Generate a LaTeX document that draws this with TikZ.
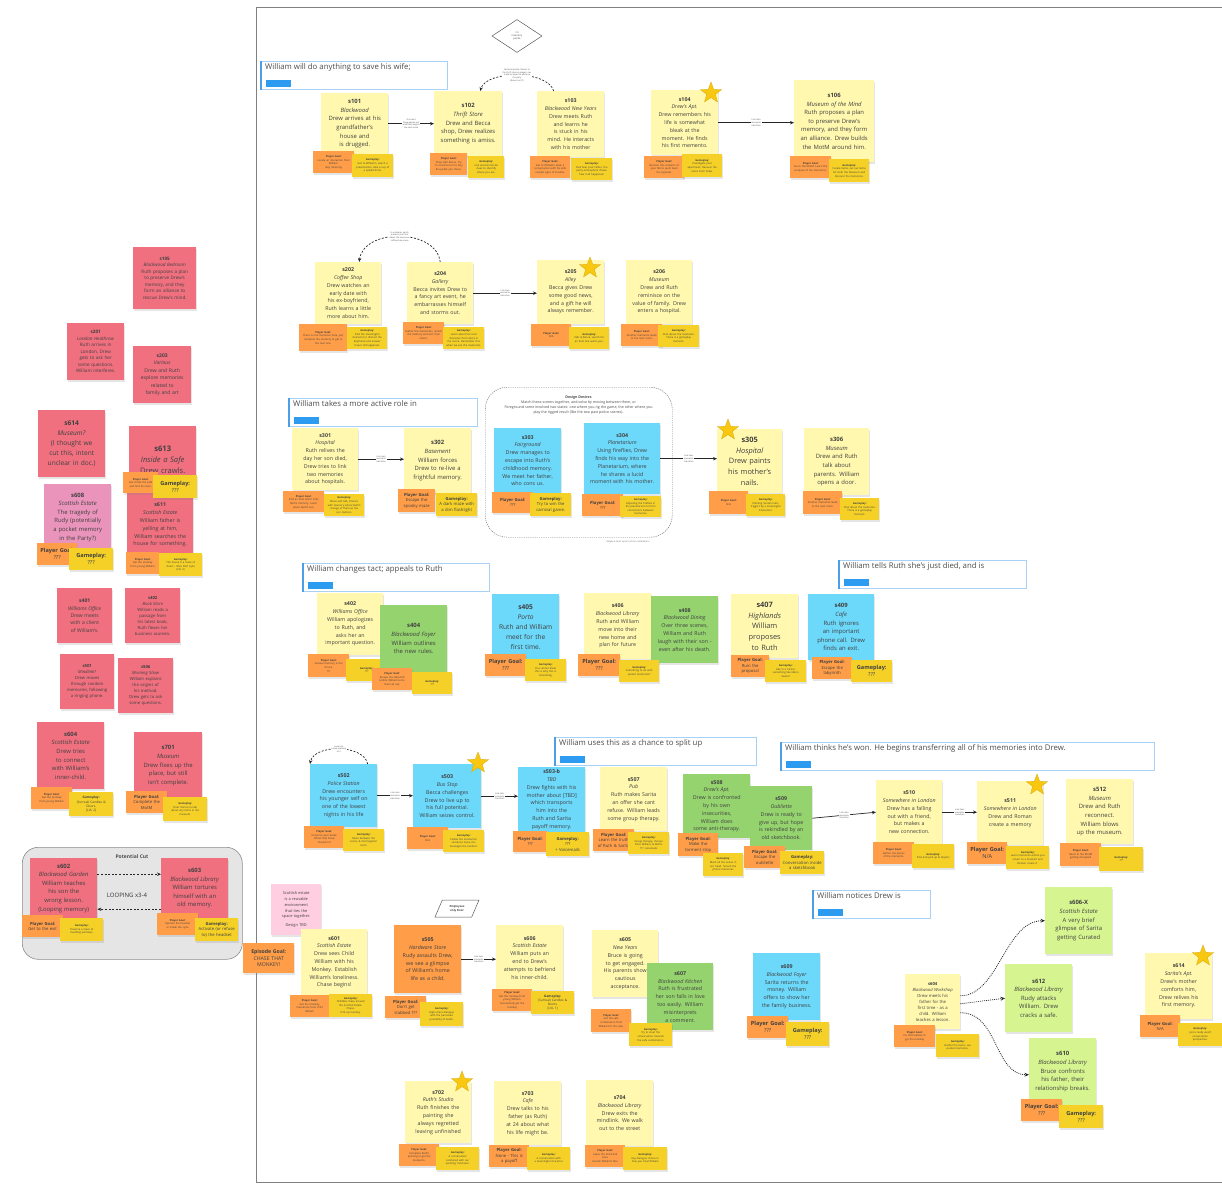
\documentclass[tikz,border=0pt]{standalone}
\usepackage{fontspec}
\setmainfont{Open Sans}
\usetikzlibrary{shapes.geometric,shadows,arrows.meta,calc}
\hyphenpenalty=10000
\exhyphenpenalty=10000
\definecolor{cY}{HTML}{FFF8AE}
\definecolor{cO}{HTML}{FF9D48}
\definecolor{cGo}{HTML}{F5D128}
\definecolor{cR}{HTML}{F0707F}
\definecolor{cB}{HTML}{6CD8FA}
\definecolor{cG}{HTML}{94D36E}
\definecolor{cLG}{HTML}{D6F590}
\definecolor{cPk}{HTML}{FFCEE0}
\definecolor{cMP}{HTML}{EA94BB}
\definecolor{cStar}{HTML}{FAC710}
\definecolor{cTB}{HTML}{A8D1F5}
\definecolor{cTB2}{HTML}{4A9FE8}
\definecolor{cTBar}{HTML}{2D9BF0}
\definecolor{cTxt}{HTML}{404040}
\tikzset{
 note/.style={rectangle,anchor=north west,align=center,inner xsep=0pt,inner ysep=1pt,text=cTxt,
   drop shadow={shadow xshift=0.4pt,shadow yshift=-2.2pt,opacity=0.2}},
 cy/.style={fill=cY}, co/.style={fill=cO}, cgo/.style={fill=cGo}, cr/.style={fill=cR},
 cb/.style={fill=cB}, cg/.style={fill=cG}, clg/.style={fill=cLG}, cpk/.style={fill=cPk}, cmp/.style={fill=cMP},
 fXS/.style={font=\fontsize{4.6}{6.5}\selectfont},
 fS/.style={font=\fontsize{5.3}{7.8}\selectfont},
 fM/.style={font=\fontsize{5.9}{8.6}\selectfont},
 fL/.style={font=\fontsize{6.6}{9.8}\selectfont},
 fXL/.style={font=\fontsize{7.4}{10.8}\selectfont},
 tT/.style={font=\fontsize{2.6}{3.6}\selectfont},
 tM/.style={font=\fontsize{4.2}{5.4}\selectfont},
 tL/.style={font=\fontsize{5.6}{7.2}\selectfont},
 kstar/.style={star,star points=5,star point ratio=2.4,fill=cStar,draw=cStar!85!black,line width=0.3pt,minimum size=22pt,inner sep=0pt},
 arr/.style={-{Stealth[length=4pt,width=3.4pt]},line width=0.7pt,black!85},
 lab/.style={fill=white,inner sep=0.6pt,align=center,font=\fontsize{2.1}{2.7}\selectfont,text=black!70},
 darr/.style={-{Stealth[length=4pt,width=3.4pt]},line width=0.7pt,black!85,dash pattern=on 2pt off 1.6pt},
 dotarr/.style={-{Stealth[length=4.5pt,width=3.8pt]},line width=0.8pt,black!85,dash pattern=on 0.9pt off 1.1pt},
 tbox/.style={draw=cTB,line width=0.8pt,anchor=north west,minimum height=28pt,inner sep=0pt,fill=white},
 ttext/.style={anchor=north west,inner sep=1pt,font=\fontsize{7.8}{9}\selectfont,text=black!70},
 tbl/.style={anchor=north west,fill=cTBar,minimum width=25pt,minimum height=6.5pt,inner sep=0pt}
}
\newcommand\stk[7]{\edef\tw{\the\dimexpr#4pt-12pt\relax}\node[note,#6,minimum width=#4pt,minimum height=#5pt,text width=\tw] (#1) at (#2,#3) {#7};}
\newcommand\sn[7]{\edef\tw{\the\dimexpr#4pt-3pt\relax}\node[note,#6,minimum width=#4pt,minimum height=#5pt,text width=\tw] (#1) at (#2,#3) {#7};}
\newcommand\ttl[5]{%
 \node[tbox,minimum width=#4pt] (#1) at (#2,#3) {};
 \draw[line width=1.6pt,cTB2] (#1.north west) -- (#1.south west);
 \node[ttext] (#1x) at ([xshift=3pt,yshift=-1pt]#1.north west) {#5};
 \node[tbl] (#1b) at ([xshift=5pt,yshift=-19pt]#1.north west) {};}
\begin{document}
\begin{tikzpicture}[x=1pt,y=-1pt]
\fill[white] (0,0) rectangle (1222,1184);
\useasboundingbox (0,0) rectangle (1222,1184);
\draw[line width=0.9pt,black!50] (1222,7) -- (256,7) -- (256,1182) -- (1222,1182);

\node[diamond,draw=black!65,line width=0.5pt,minimum width=50pt,minimum height=33pt,inner sep=0pt,align=center,text=black!75,font=\fontsize{2.4}{3.2}\selectfont] (dm) at (517,36) {1st\\inventory\\puzzle};

\ttl{t1}{261}{61}{186}{William will do anything to save his wife;}
\ttl{t2}{289}{398}{188}{William takes a more active role in}
\ttl{t3}{303}{563}{186}{William changes tact; appeals to Ruth}
\ttl{t4}{839}{560}{187}{William tells Ruth she's just died, and is}
\ttl{t5}{555}{737}{201}{William uses this as a chance to split up}
\ttl{t6}{781}{742}{373}{William thinks he's won. He begins transferring all of his memories into Drew.}
\ttl{t7}{813}{890}{117}{William notices Drew is}

% ---------- Row 1
\stk{s101}{321}{93}{67}{61}{cy,fM}{\textbf{s101}\\\textit{Blackwood}\\Drew arrives at his grandfather's house and is drugged.}
\sn{p101}{313}{151}{41}{22}{co,tT}{\textbf{Player Goal:}\\Locate an interaction from\\William.\\(key memory)}
\sn{g101}{352}{154}{41}{23}{cgo,tT}{\textbf{Gameplay:}\\Get to William's, watch a\\presentation, take a cup of\\a spiked drink.}
\stk{s102}{434}{91}{68}{65}{cy,fM}{\textbf{s102}\\\textit{Thrift Store}\\Drew and Becca shop, Drew realizes something is amiss.}
\sn{p102}{430}{153}{37}{22}{co,tT}{\textbf{Player Goal:}\\Shop with Becca. Try\\to convince her to buy\\the jacket you chose.}
\sn{g102}{468}{156}{36}{22}{cgo,tT}{\textbf{Gameplay:}\\Use environmental\\clues to identify\\where you are.}
\draw[arr] (s101.east) -- node[lab]{One alert\\Drew passes out\\as William begins\\the next scene} (s101.east -| s102.west);
\stk{s103}{537}{91}{67}{66}{cy,fS}{\textbf{s103}\\\textit{Blackwood New Years}\\Drew meets Ruth and learns he is stuck in his mind. He interacts with his mother}
\sn{p103}{530}{156}{40}{22}{co,tT}{\textbf{Player Goal:}\\Get to William's desk, a\\conversation with his wife\\reveals signs of trouble.}
\sn{g103}{571}{158}{41}{22}{cgo,tT}{\textbf{Gameplay:}\\Overhear your father, the\\party atmosphere shows\\how it all happened.}
\draw[darr] ([xshift=-17pt]s103.north) .. controls +(-6,-21) and +(6,-21) .. ([xshift=12pt]s102.north) node[pos=0.5,lab]{Optional puzzle: Return to\\the thrift store so players can\\trade an object to advance\\the party\\(Return to it?)};
\stk{s104}{651}{90}{67}{65}{cy,fS}{\textbf{s104}\\\textit{Drew's Apt.}\\Drew remembers his life is somewhat bleak at the moment. He finds his first memento.}
\sn{p104}{644}{156}{40}{22}{co,tT}{\textbf{Player Goal:}\\Recover the contents of\\your life to push back\\the vignette.}
\sn{g104}{682}{154}{40}{23}{cgo,tT}{\textbf{Gameplay:}\\Investigate your\\apartment. Recover the\\items from Drew.}
\node[kstar] (k104) at (711,93) {};
\stk{s106}{794}{80}{80}{82}{cy,fM}{\textbf{s106}\\\textit{Museum of the Mind}\\Ruth proposes a plan to preserve Drew's memory, and they form an alliance. Drew builds the MotM around him.}
\sn{p106}{790}{156}{41}{22}{co,tT}{\textbf{Player Goal:}\\Go to the MotM. Learn the\\purpose of the memories.}
\sn{g106}{829}{159}{40}{23}{cgo,tT}{\textbf{Gameplay:}\\Curate items, set out items\\for both the Museum and\\discover the memories.}
\draw[arr] (s104.east) -- node[lab]{Link item\\memento\\transition} (s104.east -| s106.west);

% ---------- Row 2
\stk{s202}{315}{262}{66}{62}{cy,fS}{\textbf{s202}\\\textit{Coffee Shop}\\Drew watches an early date with his ex-boyfriend, Ruth learns a little more about him.}
\sn{p202}{299}{324}{48}{27}{co,tT}{\textbf{Player Goal:}\\There is one memento here, just\\complete the memory to get to\\the next one.}
\sn{g202}{347}{327}{40}{22}{cgo,tT}{\textbf{Gameplay:}\\Find the meaningful\\character to distract the\\boyfriend and answer\\how it all happened.}
\stk{s204}{407}{262}{66}{62}{cy,fS}{\textbf{s204}\\\textit{Gallery}\\Becca invites Drew to a fancy art event, he embarrasses himself and storms out.}
\sn{p204}{403}{322}{41}{22}{co,tT}{\textbf{Player Goal:}\\Gather the mementos, unlock\\the memory and exit, then\\return.}
\sn{g204}{443}{327}{41}{22}{cgo,tT}{\textbf{Gameplay:}\\Learn about the rival\\character from items in\\the scene. Remember this\\when we see the memories.}
\draw[darr] (s204.north) .. controls +(-4,-34) and +(4,-34) .. ([xshift=11pt]s202.north) node[pos=0.5,lab]{In a sidebar, which\\protects you from\\about the memories\\coffee shop scene};
\stk{s205}{537}{260}{67}{64}{cy,fS}{\textbf{s205}\\\textit{Alley}\\Becca gives Drew some good news, and a gift he will always remember.}
\sn{p205}{531}{324}{40}{22}{co,tT}{\textbf{Player Goal:}\\N/A}
\sn{g205}{569}{327}{40}{22}{cgo,tT}{\textbf{Gameplay:}\\Talk to Becca, search for\\an item she wants you.}
\node[kstar] (k205) at (590,268) {};
\draw[arr] (s204.east) -- node[lab]{Link item\\memento\\transition} (s204.east -| s205.west);
\stk{s206}{626}{260}{66}{64}{cy,fS}{\textbf{s206}\\\textit{Museum}\\Drew and Ruth reminisce on the value of family. Drew enters a hospital.}
\sn{p206}{621}{324}{41}{22}{co,tT}{\textbf{Player Goal:}\\Another memento leads\\to the next room.}
\sn{g206}{658}{325}{41}{22}{cgo,tT}{\textbf{Gameplay:}\\Chat about the memento.\\There is a gameplay\\moment.}

% ---------- Row 3
\node[draw=black!55,rounded corners=22pt,minimum width=187pt,minimum height=150pt,anchor=north west,inner sep=0pt,line width=0.45pt,dash pattern=on 1.2pt off 1pt] (dd) at (485,387) {};
\node[align=center,font=\fontsize{3.6}{5.2}\selectfont,text=black!70,anchor=north] (ddt) at (578.5,392) {\textbf{Design Desires}\\Match these scenes together, and solve by moving between them, or\\Foreground some involved two states: one where you rig the game, the other where you\\play the rigged result (like the two past police scenes).};
\node[font=\fontsize{2.2}{3}\selectfont,text=black!60] (ddn) at (628,542) {Maybe a short version of the combination};
\stk{s301}{292}{428}{66}{62}{cy,fS}{\textbf{s301}\\\textit{Hospital}\\Ruth relives the day her son died, Drew tries to link two memories about hospitals.}
\sn{p301}{283}{491}{41}{21}{co,tT}{\textbf{Player Goal:}\\Find an item which links\\Ruth's memory. Learn\\about Ruth's son.}
\sn{g301}{324}{494}{40}{22}{cgo,tT}{\textbf{Gameplay:}\\Move and talk, interact\\with memory where Ruth's\\change of them as the\\son matters.}
\stk{s302}{404}{428}{67}{65}{cy,fM}{\textbf{s302}\\\textit{Basement}\\William forces Drew to re-live a frightful memory.}
\sn{p302}{398}{489}{37}{23}{co,tM}{\textbf{Player Goal:}\\Escape the spooky maze}
\sn{g302}{436}{493}{41}{23}{cgo,tM}{\textbf{Gameplay:}\\A dark maze with a dim flashlight}
\draw[arr] (s301.east) -- node[lab]{Link item\\memento\\transition} (s301.east -| s302.west);
\stk{s303}{494}{428}{67}{65}{cb,fS}{\textbf{s303}\\\textit{Fairground}\\Drew manages to escape into Ruth's childhood memory. We meet her father, who cons us.}
\sn{p303}{492}{492}{41}{21}{co,tM}{\textbf{Player Goal:}\\???}
\sn{g303}{530}{493}{41}{23}{cgo,tM}{\textbf{Gameplay:}\\Try to win the carnival game.}
\stk{s304}{584}{423}{76}{71}{cb,fS}{\textbf{s304}\\\textit{Planetarium}\\Using fireflies, Drew finds his way into the Planetarium, where he shares a lucid moment with his mother.}
\sn{p304}{582}{494}{41}{22}{co,tM}{\textbf{Player Goal:}\\???}
\sn{g304}{620}{496}{41}{21}{cgo,tT}{\textbf{Gameplay:}\\Adjusting the fireflies in\\the planetarium to form\\connections between\\memories.}
\stk{s305}{717}{429}{65}{64}{cy,fXL}{\textbf{s305}\\\textit{Hospital}\\Drew paints his mother's nails.}
\sn{p305}{709}{491}{39}{23}{co,tT}{\textbf{Player Goal:}\\N/A}
\sn{g305}{746}{494}{39}{22}{cgo,tT}{\textbf{Gameplay:}\\Painting Sarita's nails,\\triggers by a meaningful\\interaction.}
\node[kstar] (k305) at (728,430) {};
\draw[arr] (s304.east) -- node[lab]{Link item\\memento\\transition} (s304.east -| s305.west);
\stk{s306}{804}{428}{65}{67}{cy,fM}{\textbf{s306}\\\textit{Museum}\\Drew and Ruth talk about parents. William opens a door.}
\sn{p306}{803}{491}{39}{23}{co,tT}{\textbf{Player Goal:}\\Another memento leads\\to the next room.}
\sn{g306}{840}{498}{39}{22}{cgo,tT}{\textbf{Gameplay:}\\Chat about the memento.\\There is a gameplay\\moment.}

% ---------- Row 4
\stk{s402}{317}{593}{66}{62}{cy,fS}{\textbf{s402}\\\textit{Williams Office}\\William apologizes to Ruth, and asks her an important question.}
\sn{p402}{308}{654}{41}{23}{co,tT}{\textbf{Player Goal:}\\Answer memory is the\\choice.\\???}
\sn{g402}{346}{659}{41}{22}{cgo,tT}{\textbf{Gameplay:}\\???}
\stk{s404}{380}{605}{67}{67}{cg,fM}{\textbf{s404}\\\textit{Blackwood Foyer}\\William outlines the new rules.}
\sn{p404}{372}{668}{40}{22}{co,tT}{\textbf{Player Goal:}\\Escape the labyrinth\\before William turns\\them all out.}
\sn{g404}{412}{672}{40}{22}{cgo,tT}{\textbf{Gameplay:}\\???}
\stk{s405}{492}{594}{67}{66}{cb,fL}{\textbf{s405}\\\textit{Porto}\\Ruth and William meet for the first time.}
\sn{p405}{485}{654}{41}{22}{co,tL}{\textbf{Player Goal:}\\???}
\sn{g405}{525}{659}{41}{22}{cgo,tT}{\textbf{Gameplay:}\\You cannot know\\this is why this is\\interesting.}
\stk{s406}{584}{593}{67}{66}{cy,fS}{\textbf{s406}\\\textit{Blackwood Library}\\Ruth and William move into their new home and plan for future}
\stk{s408}{651}{596}{67}{67}{cg,fS}{\textbf{s408}\\\textit{Blackwood Dining}\\Over three scenes, William and Ruth laugh with their son - even after his death.}
\sn{p406}{578}{654}{42}{22}{co,tL}{\textbf{Player Goal:}\\???}
\sn{g406}{619}{660}{40}{22}{cgo,tT}{\textbf{Gameplay:}\\Something to do with\\pocket memories?}
\stk{s407}{731}{594}{67}{64}{cy,fXL}{\textbf{s407}\\\textit{Highlands}\\William proposes to Ruth}
\sn{p407}{731}{655}{38}{22}{co,tM}{\textbf{Player Goal:}\\Ruin the\\proposal}
\sn{g407}{765}{660}{41}{22}{cgo,tT}{\textbf{Gameplay:}\\Like in a sitcom,\\something like Mario\\Game?}
\stk{s409}{808}{594}{66}{66}{cb,fM}{\textbf{s409}\\\textit{Cafe}\\Ruth ignores an important phone call. Drew finds an exit.}
\sn{p409}{812}{657}{40}{22}{co,tM}{\textbf{Player Goal:}\\Escape the\\labyrinth}
\sn{g409}{851}{660}{41}{22}{cgo,tL}{\textbf{Gameplay:}\\???}

% ---------- Row 5
\stk{s502}{310}{764}{67}{63}{cb,fS}{\textbf{s502}\\\textit{Police Station}\\Drew encounters his younger self on one of the lowest nights in his life}
\sn{p502}{304}{826}{40}{22}{co,tT}{\textbf{Player Goal:}\\Convince your break\\officer that Drew\\should not}
\sn{g502}{343}{829}{41}{22}{cgo,tT}{\textbf{Gameplay:}\\Move between the\\scene, \& interrogation\\room.}
\draw[darr] ([xshift=24pt]s502.north) .. controls +(-4,-20) and +(4,-20) .. (s502.north west) node[pos=0.5,lab]{Loop into\\a loop memory\\of it};
\stk{s503}{413}{764}{68}{64}{cb,fS}{\textbf{s503}\\\textit{Bus Stop}\\Becca challenges Drew to live up to his full potential. William seizes control.}
\sn{p503}{407}{827}{41}{22}{co,tT}{\textbf{Player Goal:}\\N/A}
\sn{g503}{443}{830}{41}{22}{cgo,tT}{\textbf{Gameplay:}\\Follow the mementos\\someone leave, the\\messages the hardest.}
\node[kstar] (k503) at (478,763) {};
\draw[arr] (s502.east) -- node[lab]{Link item\\memento\\transition} (s502.east -| s503.west);
\stk{s503b}{518}{767}{67}{65}{cb,fS}{\textbf{s503-b}\\\textit{TBD}\\Drew fights with his mother about [TBD] which transports him into the Ruth and Sarita payoff memory.}
\sn{p503b}{513}{831}{34}{21}{co,tM}{\textbf{Player Goal:}\\???}
\sn{g503b}{546}{832}{43}{24}{cgo,tM}{\textbf{Gameplay:}\\???\\+ Voicemails}
\draw[arr] (s503.east) -- node[lab]{Link item\\memento\\transition} (s503.east -| s503b.west);
\stk{s507}{600}{767}{67}{64}{cy,fS}{\textbf{s507}\\\textit{Pub}\\Ruth makes Sarita an offer she cant refuse. William leads some group therapy.}
\sn{p507}{593}{829}{41}{22}{co,tM}{\textbf{Player Goal:}\\Learn the truth\\of Ruth \& Sarita}
\sn{g507}{628}{832}{41}{22}{cgo,tT}{\textbf{Gameplay:}\\Group therapy, choices\\from William, \& Ruth's\\??? voicemails}
\stk{s508}{683}{774}{67}{64}{cg,fS}{\textbf{s508}\\\textit{Drew's Apt.}\\Drew is confronted by his own insecurities, William does some anti-therapy.}
\stk{s509}{750}{786}{62}{64}{cg,fS}{\textbf{s509}\\\textit{Oubliette}\\Drew is ready to give up, but hope is rekindled by an old sketchbook.}
\sn{p508}{678}{833}{40}{23}{co,tM}{\textbf{Player Goal:}\\Make the\\torment stop}
\sn{g508}{703}{853}{40}{23}{cgo,tT}{\textbf{Gameplay:}\\Mash all the voices in\\our head. Smash the\\phone memories}
\sn{p509}{744}{846}{41}{22}{co,tM}{\textbf{Player Goal:}\\Escape the\\oubliette}
\sn{g509}{780}{851}{44}{23}{cgo,tM}{\textbf{Gameplay:}\\Conversation inside\\a sketchbook}
\stk{s510}{876}{780}{66}{64}{cy,fS}{\textbf{s510}\\\textit{Somewhere in London}\\Drew has a falling out with a friend, but makes a new connection.}
\sn{p510}{873}{842}{41}{22}{co,tT}{\textbf{Player Goal:}\\Gather the pieces\\of the memento.}
\sn{g510}{912}{844}{42}{24}{cgo,tT}{\textbf{Gameplay:}\\Find and pick up \& objects}
\draw[arr] (s509.east) -- node[lab]{Link item\\memento\\transition} (s510.west);
\stk{s511}{977}{781}{66}{64}{cy,fS}{\textbf{s511}\\\textit{Somewhere in London}\\Drew and Roman create a memory}
\sn{p511}{967}{842}{40}{22}{co,tL}{\textbf{Player Goal:}\\N/A}
\sn{g511}{1006}{846}{43}{23}{cgo,tT}{\textbf{Gameplay:}\\Learn memories where you\\return to a moment and\\Roman create it.}
\node[kstar] (k511) at (1037,785) {};
\draw[arr] (s510.east) -- node[lab]{Link item\\memento\\transition} (s510.east -| s511.west);
\stk{s512}{1066}{779}{67}{65}{cy,fM}{\textbf{s512}\\\textit{Museum}\\Drew and Ruth reconnect. William blows up the museum.}
\sn{p512}{1060}{843}{41}{23}{co,tT}{\textbf{Player Goal:}\\React to the MotM\\getting disrupted}
\sn{g512}{1099}{847}{44}{24}{cgo,tT}{\textbf{Gameplay:}\\???}

% ---------- Row 6
\stk{pk}{271}{884}{50}{51}{cpk,font=\fontsize{3.9}{5.8}\selectfont}{Scottish estate is a reusable environment that ties the space together.\\[3pt]Design TBD}
\sn{eg}{243}{943}{51}{30}{co,font=\fontsize{5.2}{6.6}\selectfont}{\textbf{Episode Goal:}\\CHASE THAT\\MONKEY!}
\stk{s601}{301}{929}{66}{66}{cy,fS}{\textbf{s601}\\\textit{Scottish Estate}\\Drew sees Child William with his Monkey. Establish William's loneliness. Chase begins!}
\sn{p601}{290}{995}{39}{22}{co,tT}{\textbf{Player Goal:}\\Get the monkey,\\mementos from child\\William}
\sn{g601}{329}{994}{43}{23}{cgo,tT}{\textbf{Gameplay:}\\Childlike chase around\\the Scottish Estate.\\Chase.\\Pick up monkey.}
\node[trapezium,trapezium left angle=62,trapezium right angle=118,trapezium stretches=true,draw=black!65,line width=0.5pt,minimum width=44pt,minimum height=17pt,inner sep=0.5pt,align=center,font=\fontsize{2.8}{3.6}\selectfont\bfseries,text=black!75] (door) at (457,908.5) {Employees\\only Door};
\stk{s505}{394}{925}{67}{68}{co,fS}{\textbf{s505}\\\textit{Hardware Store}\\Rudy assaults Drew, we see a glimpse of William's home life as a child.}
\sn{p505}{385}{996}{41}{22}{co,tM}{\textbf{Player Goal:}\\Don't get\\stabbed ???}
\sn{g505}{420}{1002}{43}{24}{cgo,tT}{\textbf{Gameplay:}\\High-stress dialogue\\with the perceived\\possibility of death.}
\stk{s606}{496}{925}{67}{65}{cy,fS}{\textbf{s606}\\\textit{Scottish Estate}\\William puts an end to Drew's attempts to befriend his inner-child.}
\sn{p606}{492}{989}{40}{22}{co,tT}{\textbf{Player Goal:}\\Get the monkey from\\young William.\\Successfully get the\\monkey}
\sn{g606}{531}{991}{43}{23}{cgo,font=\fontsize{3.2}{4.2}\selectfont}{\textbf{Gameplay:}\\(Surreal) Candles \&\\Doors.\\{}[LVL 1]}
\draw[arr] (s505.east) -- node[lab]{Link item\\memento\\transition} (s505.east -| s606.west);
\stk{s605}{592}{930}{66}{67}{cy,fS}{\textbf{s605}\\\textit{New Years}\\Bruce is going to get engaged. His parents show\\cautious\\acceptance.}
\sn{p605}{591}{1009}{40}{23}{co,tT}{\textbf{Player Goal:}\\Get the safe\\combination from\\William for the safe.}
\stk{s607}{647}{963}{66}{67}{cg,fS}{\textbf{s607}\\\textit{Blackwood Kitchen}\\Ruth is frustrated her son falls in love too easily. William misinterprets a comment.}
\sn{g605}{629}{1023}{43}{23}{cgo,tT}{\textbf{Gameplay:}\\Try to steer the\\conversation towards\\the safe combination.}

% ---------- Row 7
\stk{s702}{405}{1081}{66}{62}{cy,fS}{\textbf{s702}\\\textit{Ruth's Studio}\\Ruth finishes the painting she always regretted leaving unfinished}
\sn{p702}{399}{1144}{40}{22}{co,tT}{\textbf{Player Goal:}\\Complete Ruth's\\painting to get the\\memento.}
\sn{g702}{436}{1147}{43}{23}{cgo,tT}{\textbf{Gameplay:}\\A conversation\\combined with our\\`painting' mechanic.}
\node[kstar] (k702) at (462,1082) {};
\stk{s703}{494}{1081}{67}{64}{cy,fS}{\textbf{s703}\\\textit{Cafe}\\Drew talks to his father (as Ruth) at 24 about what his life might be.}
\sn{p703}{489}{1145}{40}{22}{co,tM}{\textbf{Player Goal:}\\None - This is\\a payoff}
\sn{g703}{527}{1147}{43}{23}{cgo,tT}{\textbf{Gameplay:}\\A conversation with\\a meaningful character}
\stk{s704}{586}{1080}{67}{66}{cy,fS}{\textbf{s704}\\\textit{Blackwood Library}\\Drew exits the mindlink. We walk out to the street}
\sn{p704}{585}{1145}{40}{22}{co,tT}{\textbf{Player Goal:}\\Leave the mind-link\\area.\\Decide William's fate}
\sn{g704}{623}{1147}{44}{23}{cgo,tT}{\textbf{Gameplay:}\\Key dialogue choice in\\how you treat William}

% ---------- Right block
\stk{s609}{753}{953}{67}{67}{cb,fS}{\textbf{s609}\\\textit{Blackwood Foyer}\\Sarita returns the money. William offers to show her the family business.}
\sn{p609}{747}{1016}{41}{22}{co,tL}{\textbf{Player Goal:}\\???}
\sn{g609}{786}{1022}{43}{24}{cgo,tL}{\textbf{Gameplay:}\\???}
\stk{s604}{905}{974}{55}{55}{cy,font=\fontsize{4.2}{6}\selectfont}{\textbf{s604}\\\textit{Blackwood Workshop}\\Drew meets his father for the first time - as a child. William teaches a lesson.}
\sn{p604}{894}{1025}{41}{22}{co,tT}{\textbf{Player Goal:}\\Fix the headset to\\get the monkey}
\sn{g604}{936}{1034}{43}{23}{cgo,tT}{\textbf{Gameplay:}\\Gather the items, see\\pocket memories.}
\stk{s606x}{1045}{887}{67}{67}{clg,fM}{\textbf{s606-X}\\\textit{Scottish Estate}\\A very brief glimpse of Sarita getting Curated}
\stk{s612}{1005}{964}{67}{68}{clg,fM}{\textbf{s612}\\\textit{Blackwood Library}\\Rudy attacks William. Drew cracks a safe.}
\stk{s610}{1029}{1038}{67}{67}{clg,fM}{\textbf{s610}\\\textit{Blackwood Library}\\Bruce confronts his father, their relationship breaks.}
\sn{p610}{1021}{1099}{41}{22}{co,tL}{\textbf{Player Goal:}\\???}
\sn{g610}{1059}{1105}{44}{23}{cgo,tL}{\textbf{Gameplay:}\\???}
\draw[dotarr] ([yshift=6pt]s604.east) .. controls +(38,0) and +(-40,0) .. (s606x.west);
\draw[dotarr] ([yshift=-2pt]s604.east) -- (s612.west);
\draw[dotarr] ([yshift=-11pt]s604.east) .. controls +(38,0) and +(-35,0) .. ([yshift=-3pt]s610.west);
\stk{s614}{1145}{953}{67}{66}{cy,fS}{\textbf{s614}\\\textit{Sarita's Apt.}\\Drew's mother comforts him, Drew relives his first memory.}
\sn{p614}{1140}{1015}{40}{22}{co,tM}{\textbf{Player Goal:}\\N/A}
\sn{g614}{1178}{1023}{44}{23}{cgo,tT}{\textbf{Gameplay:}\\Just a really weird\\conversation\\perspective.}
\node[kstar] (k614) at (1203,956) {};

% ---------- Left column
\stk{s105}{133}{247}{63}{62}{cr,fXS}{\textbf{s105}\\\textit{Blackwood Bedroom}\\Ruth proposes a plan to preserve Drew's memory, and they form an alliance to rescue Drew's mind.}
\stk{s201}{67}{323}{57}{57}{cr,fXS}{\textbf{s201}\\\textit{London Heathrow}\\Ruth arrives in London, Drew gets to ask her some questions. William interferes.}
\stk{s203}{133}{346}{58}{57}{cr,font=\fontsize{5}{7.4}\selectfont}{\textbf{s203}\\\textit{Various}\\Drew and Ruth explore memories related to family and art}
\stk{s614L}{38}{410}{67}{67}{cr,fL}{\textbf{s614}\\\textit{Museum?}\\(I thought we cut this, intent unclear in doc.)}
\stk{s613}{129}{426}{67}{67}{cr,font=\fontsize{7.6}{11}\selectfont}{\textbf{s613}\\\textit{Inside a Safe}\\Drew crawls.}
\stk{s608}{44}{484}{67}{66}{cmp,fM}{\textbf{s608}\\\textit{Scottish Estate}\\The tragedy of Rudy (potentially a pocket memory in the Party?)}
\stk{s611}{127}{484}{66}{82}{cr,fS}{\textbf{s611}\\\textit{Scottish Estate}\\William father is yelling at him, William searches the house for something.}
\sn{p613}{123}{472}{35}{21}{co,tT}{\textbf{Player Goal:}\\Get inside the safe\\and find the item.}
\sn{g613}{153}{475}{44}{23}{cgo,tL}{\textbf{Gameplay:}\\???}
\sn{p608}{37}{543}{40}{22}{co,tL}{\textbf{Player Goal:}\\???}
\sn{g608}{69}{548}{44}{22}{cgo,tL}{\textbf{Gameplay:}\\???}
\sn{p611}{126}{552}{33}{22}{co,tT}{\textbf{Player Goal:}\\Get the monkey\\from young William}
\sn{g611}{159}{553}{43}{23}{cgo,tT}{\textbf{Gameplay:}\\The house is a maze of\\doors - `Alice Doll' style\\(LVL 3)}
\stk{s401}{57}{588}{55}{55}{cr,font=\fontsize{5}{7.4}\selectfont}{\textbf{s401}\\\textit{Williams Office}\\Drew meets with a client of William's.}
\stk{s402L}{125}{588}{55}{55}{cr,font=\fontsize{4.2}{6}\selectfont}{\textbf{s402}\\\textit{Book Store}\\William reads a passage from his latest book, Ruth flexes her business acumen.}
\stk{s501}{60}{654}{54}{55}{cr,font=\fontsize{4.2}{6}\selectfont}{\textbf{s501}\\\textit{Mindlink?}\\Drew moves through random memories, following a ringing phone.}
\stk{s506}{118}{658}{55}{55}{cr,font=\fontsize{4.2}{6}\selectfont}{\textbf{s506}\\\textit{Morning Show}\\William explains the origins of his method. Drew gets to ask some questions.}
\stk{s604L}{37}{722}{67}{67}{cr,fM}{\textbf{s604}\\\textit{Scottish Estate}\\Drew tries to connect with William's inner-child.}
\sn{p604L}{31}{787}{41}{22}{co,tT}{\textbf{Player Goal:}\\Get the monkey\\from young William}
\sn{g604L}{69}{792}{44}{24}{cgo,font=\fontsize{3.2}{4.2}\selectfont}{\textbf{Gameplay:}\\(Surreal) Candles \&\\Doors.\\{}[LVL 2]}
\stk{s701}{134}{732}{68}{67}{cr,fM}{\textbf{s701}\\\textit{Museum}\\Drew fixes up the place, but still isn't complete.}
\sn{p701}{126}{791}{41}{22}{co,tM}{\textbf{Player Goal:}\\Complete the\\MotM}
\sn{g701}{163}{797}{44}{24}{cgo,tT}{\textbf{Gameplay:}\\Final chance to talk\\about any items in the\\museum.}

\node[draw=black!45,fill=black!10,rounded corners=16pt,minimum width=220pt,minimum height=112pt,anchor=north west,inner sep=0pt,line width=0.6pt] (pcut) at (22,847) {};
\node[font=\bfseries\fontsize{5}{6}\selectfont,text=black!70] (pcutl) at (132,857) {Potential Cut};
\stk{s602}{30}{858}{67}{60}{cr,fM}{\textbf{s602}\\\textit{Blackwood Garden}\\William teaches his son the wrong lesson. (Looping memory)}
\stk{s603}{161}{858}{67}{60}{cr,fM}{\textbf{s603}\\\textit{Blackwood Library}\\William tortures himself with an old memory.}
\draw[darr] ([yshift=14pt]s602.east) -- ([yshift=14pt]s602.east -| s603.west);
\draw[darr] ([yshift=-21pt]s603.west) -- ([yshift=-21pt]s603.west -| s602.east);
\node[font=\fontsize{6}{7}\selectfont,text=black!80] (loop) at (127,895) {LOOPING x3-4};
\sn{p602}{22}{915}{41}{22}{co,tM}{\textbf{Player Goal:}\\Get to the exit}
\sn{g602}{60}{918}{43}{23}{cgo,tT}{\textbf{Gameplay:}\\Traverse a maze of\\mudding windows.}
\sn{p603}{157}{913}{41}{22}{co,tT}{\textbf{Player Goal:}\\Operate the headset\\or break the cycle}
\sn{g603}{195}{918}{43}{23}{cgo,tM}{\textbf{Gameplay:}\\Activate (or refuse\\to) the headset}
\end{tikzpicture}
\end{document}
